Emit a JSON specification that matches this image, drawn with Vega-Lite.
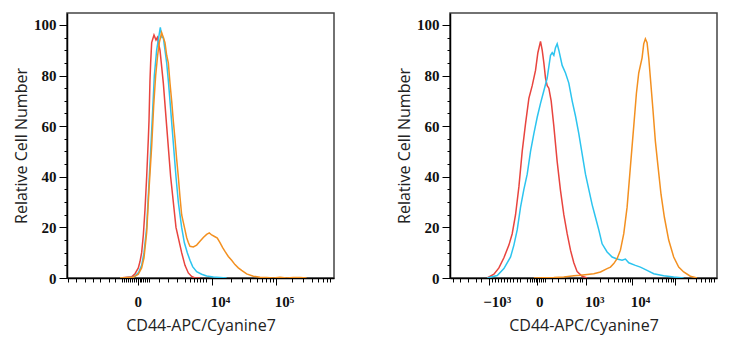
{
  "$schema": "https://vega.github.io/schema/vega-lite/v6.json",
  "padding": {"left": 12, "top": 12, "right": 5, "bottom": 5},
  "background": "white",
  "spacing": 56,
  "config": {
    "view": {"stroke": "#444", "strokeWidth": 1.5},
    "axis": {
      "grid": false,
      "domainColor": "#000",
      "domainWidth": 1.5,
      "tickColor": "#000",
      "tickWidth": 1,
      "labelFont": "Liberation Serif",
      "labelFontWeight": "bold",
      "labelFontSize": 15,
      "labelColor": "#111",
      "titleFont": "Open Sans",
      "titleFontSize": 16,
      "titleFontWeight": "normal",
      "titleColor": "#222"
    },
    "line": {"strokeWidth": 1.5}
  },
  "datasets": {
    "left": [
      {"s":"red","x":198.5,"y":0},{"s":"red","x":242.2,"y":0.5},{"s":"red","x":254.7,"y":1.7},{"s":"red","x":267.1,"y":4},{"s":"red","x":273.4,"y":6.5},{"s":"red","x":279.6,"y":10},{"s":"red","x":285.9,"y":17},{"s":"red","x":292.1,"y":27},{"s":"red","x":298.4,"y":40},{"s":"red","x":304.6,"y":55},{"s":"red","x":307.1,"y":62},{"s":"red","x":310.8,"y":78},{"s":"red","x":313.3,"y":85},{"s":"red","x":317.1,"y":93},{"s":"red","x":325.8,"y":96},{"s":"red","x":333.3,"y":94},{"s":"red","x":338.3,"y":95},{"s":"red","x":348.3,"y":90},{"s":"red","x":360.8,"y":77},{"s":"red","x":373.3,"y":60},{"s":"red","x":388.2,"y":40},{"s":"red","x":408.2,"y":20},{"s":"red","x":429.4,"y":10},{"s":"red","x":441.9,"y":5},{"s":"red","x":454.4,"y":2},{"s":"red","x":466.9,"y":0.6},{"s":"red","x":479.4,"y":0},{"s":"red","x":498.1,"y":0},
      {"s":"cyan","x":198.5,"y":0},{"s":"cyan","x":248.4,"y":0.3},{"s":"cyan","x":267.1,"y":2},{"s":"cyan","x":279.6,"y":5},{"s":"cyan","x":288.4,"y":10},{"s":"cyan","x":298.4,"y":20},{"s":"cyan","x":305.8,"y":35},{"s":"cyan","x":313.3,"y":50},{"s":"cyan","x":320.8,"y":66},{"s":"cyan","x":327.1,"y":80},{"s":"cyan","x":335.8,"y":90},{"s":"cyan","x":343.3,"y":95},{"s":"cyan","x":349.5,"y":99},{"s":"cyan","x":355.8,"y":95},{"s":"cyan","x":360.8,"y":95},{"s":"cyan","x":367.0,"y":90},{"s":"cyan","x":373.3,"y":85},{"s":"cyan","x":379.5,"y":78},{"s":"cyan","x":385.7,"y":70},{"s":"cyan","x":393.2,"y":60},{"s":"cyan","x":400.7,"y":50},{"s":"cyan","x":408.2,"y":40},{"s":"cyan","x":416.9,"y":30},{"s":"cyan","x":429.4,"y":20},{"s":"cyan","x":439.4,"y":14},{"s":"cyan","x":450.6,"y":10},{"s":"cyan","x":460.6,"y":7},{"s":"cyan","x":470.6,"y":4.5},{"s":"cyan","x":485.6,"y":2.5},{"s":"cyan","x":504.3,"y":1.5},{"s":"cyan","x":523.0,"y":0.8},{"s":"cyan","x":548.0,"y":0.4},{"s":"cyan","x":598.0,"y":0},
      {"s":"orange","x":198.5,"y":0},{"s":"orange","x":248.4,"y":0.3},{"s":"orange","x":267.1,"y":1.5},{"s":"orange","x":279.6,"y":4},{"s":"orange","x":288.4,"y":8},{"s":"orange","x":298.4,"y":18},{"s":"orange","x":307.1,"y":35},{"s":"orange","x":317.1,"y":52},{"s":"orange","x":324.6,"y":68},{"s":"orange","x":332.1,"y":80},{"s":"orange","x":339.5,"y":88},{"s":"orange","x":345.8,"y":93},{"s":"orange","x":354.5,"y":97},{"s":"orange","x":360.8,"y":95},{"s":"orange","x":367.0,"y":93},{"s":"orange","x":373.3,"y":88},{"s":"orange","x":379.5,"y":85},{"s":"orange","x":385.7,"y":77},{"s":"orange","x":392.0,"y":70},{"s":"orange","x":398.2,"y":62},{"s":"orange","x":404.4,"y":55},{"s":"orange","x":410.7,"y":47},{"s":"orange","x":416.9,"y":40},{"s":"orange","x":423.2,"y":32},{"s":"orange","x":429.4,"y":25},{"s":"orange","x":435.7,"y":22},{"s":"orange","x":441.9,"y":19},{"s":"orange","x":448.1,"y":16},{"s":"orange","x":454.4,"y":14},{"s":"orange","x":460.6,"y":12.5},{"s":"orange","x":473.1,"y":12.3},{"s":"orange","x":485.6,"y":13},{"s":"orange","x":498.1,"y":14.5},{"s":"orange","x":510.6,"y":16},{"s":"orange","x":523.0,"y":17.2},{"s":"orange","x":533.0,"y":17.8},{"s":"orange","x":541.8,"y":17},{"s":"orange","x":554.3,"y":16.3},{"s":"orange","x":563.0,"y":15.8},{"s":"orange","x":573.0,"y":14},{"s":"orange","x":583.0,"y":12},{"s":"orange","x":591.7,"y":10.5},{"s":"orange","x":604.2,"y":8.5},{"s":"orange","x":616.7,"y":7},{"s":"orange","x":629.2,"y":5.3},{"s":"orange","x":641.6,"y":4},{"s":"orange","x":654.1,"y":3},{"s":"orange","x":672.8,"y":1.6},{"s":"orange","x":697.8,"y":0.7},{"s":"orange","x":722.8,"y":0.3},{"s":"orange","x":747.7,"y":0.2},{"s":"orange","x":772.7,"y":0},{"s":"orange","x":797.7,"y":0.3},{"s":"orange","x":822.6,"y":0},{"s":"orange","x":847.6,"y":0.2},{"s":"orange","x":872.6,"y":0.2},{"s":"orange","x":897.5,"y":0}
    ],
    "right": [
      {"s":"red","x":139.5,"y":0},{"s":"red","x":164.5,"y":1.5},{"s":"red","x":183.2,"y":4},{"s":"red","x":201.9,"y":8},{"s":"red","x":220.6,"y":13},{"s":"red","x":233.0,"y":17.5},{"s":"red","x":245.5,"y":25},{"s":"red","x":258.0,"y":36},{"s":"red","x":270.4,"y":50},{"s":"red","x":282.9,"y":61},{"s":"red","x":295.4,"y":71},{"s":"red","x":307.9,"y":76},{"s":"red","x":320.3,"y":82},{"s":"red","x":329.1,"y":89},{"s":"red","x":339.0,"y":93.5},{"s":"red","x":345.3,"y":90},{"s":"red","x":351.5,"y":85},{"s":"red","x":357.7,"y":79},{"s":"red","x":364.0,"y":76},{"s":"red","x":370.2,"y":75},{"s":"red","x":378.9,"y":70},{"s":"red","x":388.9,"y":60},{"s":"red","x":401.4,"y":46},{"s":"red","x":413.9,"y":34.5},{"s":"red","x":426.3,"y":25},{"s":"red","x":438.8,"y":17.5},{"s":"red","x":451.3,"y":11},{"s":"red","x":463.7,"y":6},{"s":"red","x":476.2,"y":2.5},{"s":"red","x":494.9,"y":0.7},{"s":"red","x":513.6,"y":0},
      {"s":"cyan","x":139.5,"y":0},{"s":"cyan","x":158.2,"y":0.5},{"s":"cyan","x":176.9,"y":1},{"s":"cyan","x":201.9,"y":3.7},{"s":"cyan","x":226.8,"y":8.3},{"s":"cyan","x":239.3,"y":13},{"s":"cyan","x":251.7,"y":19},{"s":"cyan","x":264.2,"y":28},{"s":"cyan","x":276.7,"y":35},{"s":"cyan","x":289.2,"y":41},{"s":"cyan","x":301.6,"y":50},{"s":"cyan","x":314.1,"y":57},{"s":"cyan","x":326.6,"y":63.5},{"s":"cyan","x":339.0,"y":69},{"s":"cyan","x":351.5,"y":74},{"s":"cyan","x":364.0,"y":79},{"s":"cyan","x":376.4,"y":88},{"s":"cyan","x":382.7,"y":89},{"s":"cyan","x":388.9,"y":88},{"s":"cyan","x":395.1,"y":91},{"s":"cyan","x":401.4,"y":92.5},{"s":"cyan","x":407.6,"y":90},{"s":"cyan","x":420.1,"y":84},{"s":"cyan","x":432.6,"y":81},{"s":"cyan","x":445.0,"y":77},{"s":"cyan","x":457.5,"y":70},{"s":"cyan","x":470.0,"y":64},{"s":"cyan","x":482.4,"y":57},{"s":"cyan","x":494.9,"y":49},{"s":"cyan","x":507.4,"y":41},{"s":"cyan","x":519.8,"y":35},{"s":"cyan","x":532.3,"y":29},{"s":"cyan","x":544.8,"y":24},{"s":"cyan","x":557.3,"y":19},{"s":"cyan","x":569.7,"y":13.5},{"s":"cyan","x":588.4,"y":10.3},{"s":"cyan","x":607.1,"y":8.3},{"s":"cyan","x":625.8,"y":7.5},{"s":"cyan","x":644.5,"y":7},{"s":"cyan","x":657.0,"y":7.5},{"s":"cyan","x":669.5,"y":6},{"s":"cyan","x":694.4,"y":5},{"s":"cyan","x":713.1,"y":4.3},{"s":"cyan","x":738.1,"y":3},{"s":"cyan","x":763.0,"y":1.7},{"s":"cyan","x":800.4,"y":0.9},{"s":"cyan","x":837.8,"y":0.4},{"s":"cyan","x":875.2,"y":0},
      {"s":"orange","x":314.1,"y":0},{"s":"orange","x":351.5,"y":0.1},{"s":"orange","x":388.9,"y":0.2},{"s":"orange","x":426.3,"y":0.4},{"s":"orange","x":463.7,"y":0.9},{"s":"orange","x":488.7,"y":1.1},{"s":"orange","x":513.6,"y":1.4},{"s":"orange","x":538.6,"y":1.7},{"s":"orange","x":563.5,"y":2.4},{"s":"orange","x":588.4,"y":3.7},{"s":"orange","x":600.9,"y":4.3},{"s":"orange","x":613.4,"y":5.7},{"s":"orange","x":625.8,"y":7.6},{"s":"orange","x":638.3,"y":11},{"s":"orange","x":650.8,"y":17.5},{"s":"orange","x":663.3,"y":28},{"s":"orange","x":675.7,"y":44},{"s":"orange","x":688.2,"y":60},{"s":"orange","x":698.2,"y":73},{"s":"orange","x":706.9,"y":81},{"s":"orange","x":719.4,"y":87},{"s":"orange","x":725.6,"y":92.5},{"s":"orange","x":731.8,"y":94.5},{"s":"orange","x":738.1,"y":93},{"s":"orange","x":744.3,"y":87},{"s":"orange","x":750.5,"y":79},{"s":"orange","x":760.5,"y":66},{"s":"orange","x":769.2,"y":54},{"s":"orange","x":779.2,"y":44},{"s":"orange","x":790.4,"y":33},{"s":"orange","x":802.9,"y":24},{"s":"orange","x":819.1,"y":15},{"s":"orange","x":837.8,"y":8.3},{"s":"orange","x":856.5,"y":4.3},{"s":"orange","x":875.2,"y":2.4},{"s":"orange","x":900.2,"y":0.7},{"s":"orange","x":925.1,"y":0}
    ]
  },
  "hconcat": [
    {
      "width": 267,
      "height": 265,
      "data": {"name": "left"},
      "mark": {"type": "line", "clip": true},
      "encoding": {
        "x": {
          "field": "x", "type": "quantitative",
          "scale": {"domain": [0, 1000], "nice": false, "zero": false},
          "axis": {
            "title": "CD44-APC/Cyanine7",
            "values": [3.7,33.7,66.3,96.2,124.7,156.2,180.9,206,213.5,221,228.5,236,243.5,251,258.4,264.8,271.6,277.1,284.6,292.1,299.6,308.2,343.4,378.2,411.9,443,461.8,474.5,486.9,499.2,511.2,522.4,543,615.3,657.3,687.2,710.4,729.5,745.6,759.5,771.9,782.7,841.5,884.9,916.4,941.1,959.8,972.6,984.9],
            "labelExpr": "datum.value == 264.8 ? '0' : datum.value == 543 ? '10⁴' : datum.value == 782.7 ? '10⁵' : ''",
            "tickSize": {"condition": {"test": "indexof([264.8,543,782.7], datum.value) >= 0", "value": 7}, "value": 4},
            "labelOffset": {"condition": {"test": "datum.value == 264.8", "value": 0}, "value": 8},
            "labelPadding": 9,
            "labelFlush": false,
            "labelOverlap": false,
            "titlePadding": 8
          }
        },
        "y": {
          "field": "y", "type": "quantitative",
          "scale": {"domain": [0, 104.7], "nice": false},
          "axis": {
            "title": "Relative Cell Number",
            "values": [0,5,10,15,20,25,30,35,40,45,50,55,60,65,70,75,80,85,90,95,100],
            "labelExpr": "datum.value % 20 == 0 ? datum.label : ''",
            "tickSize": {"condition": {"test": "datum.value % 20 == 0", "value": 8}, "value": 3},
            "labelPadding": 3,
            "labelOverlap": false,
            "titlePadding": 4
          }
        },
        "color": {
          "field": "s", "type": "nominal",
          "scale": {"domain": ["red", "cyan", "orange"], "range": ["#e8443e", "#2cc4ef", "#f39020"]},
          "legend": null
        }
      }
    },
    {
      "width": 267,
      "height": 265,
      "data": {"name": "right"},
      "mark": {"type": "line", "clip": true},
      "encoding": {
        "x": {
          "field": "x", "type": "quantitative",
          "scale": {"domain": [0, 1000], "nice": false, "zero": false},
          "axis": {
            "title": "CD44-APC/Cyanine7",
            "values": [9.7,38.5,67.3,97.3,117.1,145.2,157.1,169.5,180.7,191.9,203.1,214.4,225.6,236.8,250.6,263,289.2,301.2,308.7,316.2,323.7,326.6,334.9,342.4,349.9,356.5,381.6,406.3,431.3,450,462.4,475.1,487.5,493.8,509.9,561.7,592,613.3,630.1,643.6,655.2,664.9,673.9,682,730.3,758.7,778.9,794.6,807.4,817.8,827.2,835.4,842.9,891.5,919.5,939.7,955.4,968.2,978.6,987.9],
            "labelExpr": "datum.value == 145.2 ? '−10³' : datum.value == 326.6 ? '0' : datum.value == 509.9 ? '10³' : datum.value == 682 ? '10⁴' : ''",
            "tickSize": {"condition": {"test": "indexof([145.2,326.6,509.9,682,842.9], datum.value) >= 0", "value": 7}, "value": 4},
            "labelOffset": {"condition": {"test": "datum.value == 326.6", "value": 2}, "value": 8},
            "labelPadding": 9,
            "labelFlush": false,
            "labelOverlap": false,
            "titlePadding": 8
          }
        },
        "y": {
          "field": "y", "type": "quantitative",
          "scale": {"domain": [0, 104.7], "nice": false},
          "axis": {
            "title": "Relative Cell Number",
            "values": [0,5,10,15,20,25,30,35,40,45,50,55,60,65,70,75,80,85,90,95,100],
            "labelExpr": "datum.value % 20 == 0 ? datum.label : ''",
            "tickSize": {"condition": {"test": "datum.value % 20 == 0", "value": 8}, "value": 3},
            "labelPadding": 3,
            "labelOverlap": false,
            "titlePadding": 4
          }
        },
        "color": {
          "field": "s", "type": "nominal",
          "scale": {"domain": ["red", "cyan", "orange"], "range": ["#e8443e", "#2cc4ef", "#f39020"]},
          "legend": null
        }
      }
    }
  ]
}
